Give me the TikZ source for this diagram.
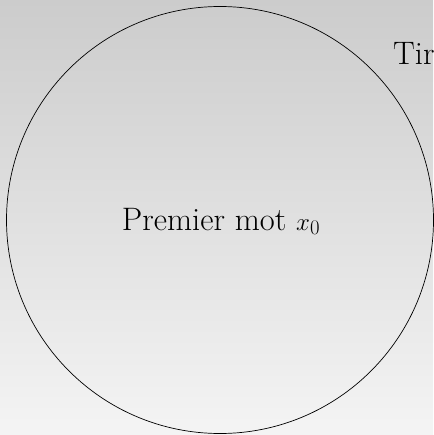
\documentclass[tikz,border=0pt]{standalone}
\begin{document}
\begin{tikzpicture}[x=1pt,y=-1pt,
  lbl/.style={inner sep=0pt, font=\fontsize{32.5}{38}\selectfont},
  ring/.style={draw=black, line width=0.7pt}]
\useasboundingbox (0,0) rectangle (433,435);
\shade[top color={rgb,255:red,204;green,204;blue,204}, bottom color={rgb,255:red,244;green,244;blue,244}] (0,0) rectangle (433,435);
\node[ring, circle, minimum size=427pt, inner sep=0pt] (c) at (220,220) {};
\node[lbl, anchor=base] (t) at (221,230) {Premier mot $x_0$};
\node[lbl, anchor=base west] (tir) at (393,65) {Tir};
\end{tikzpicture}
\end{document}
